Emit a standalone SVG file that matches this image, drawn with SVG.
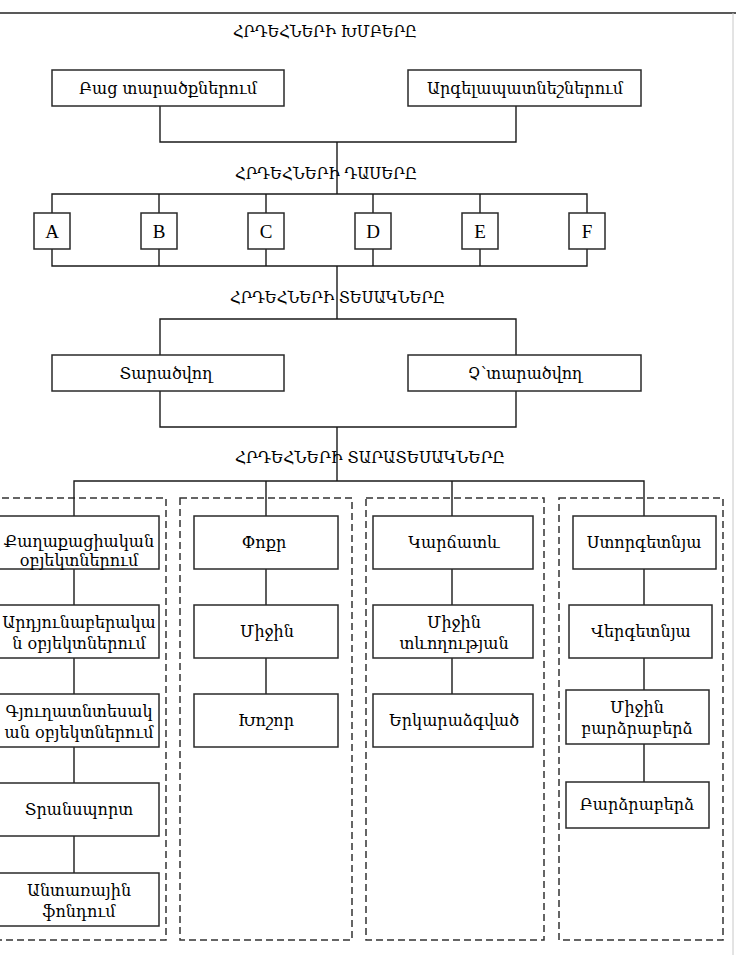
<svg xmlns="http://www.w3.org/2000/svg" width="736" height="955" viewBox="0 0 736 955">
<style>
.bg{fill:#fff}
.box{fill:#fff;stroke:#2a2a2a;stroke-width:1.5}
.dash{fill:none;stroke:#333;stroke-width:1.5;stroke-dasharray:7 4}
.ln{fill:none;stroke:#1a1a1a;stroke-width:1.4}
.t{font-family:"DejaVu Serif","Noto Sans",serif;font-size:16px;fill:#000;text-anchor:middle}
.h{font-family:"DejaVu Serif","Noto Sans",serif;font-size:16.5px;fill:#000}
.l{font-family:"Liberation Serif","DejaVu Serif",serif;font-size:19px;fill:#000;text-anchor:middle}
</style>
<rect class="bg" x="0" y="0" width="736" height="955"/>
<g id="frame">
<line x1="0" y1="13" x2="736" y2="13" stroke="#222" stroke-width="1.5"/>
<line x1="733" y1="13" x2="733" y2="955" stroke="#c8c8c8" stroke-width="1"/>
</g>
<g id="containers">
<rect class="dash" x="-20" y="498" width="186" height="442"/>
<rect class="dash" x="180" y="498" width="172" height="442"/>
<rect class="dash" x="366" y="498" width="178" height="442"/>
<rect class="dash" x="559" y="498" width="164" height="442"/>
</g>
<g id="connectors">
<path class="ln" d="M160 106V142H516V106M337 142V194"/>
<path class="ln" d="M52 213V194H587V213M159 194V213M266 194V213M373 194V213M480 194V213"/>
<path class="ln" d="M52 249V266H587V249M159 249V266M266 249V266M373 249V266M480 249V266"/>
<path class="ln" d="M337 266V319M160 355V319H516V355"/>
<path class="ln" d="M160 391V427H516V391M337 427V481"/>
<path class="ln" d="M74 516V481H644V516M266 481V516M452 481V516"/>
<path class="ln" d="M74 569V605M74 658V694M74 747V783M74 836V873"/>
<path class="ln" d="M266 569V605M266 658V694"/>
<path class="ln" d="M452 569V605M452 658V694"/>
<path class="ln" d="M644 569V605M644 658V690M644 744V782"/>
</g>
<g id="titles">
<text id="title1" class="h" x="233" y="37" textLength="184" lengthAdjust="spacingAndGlyphs">ՀՐԴԵՀՆԵՐԻ ԽՄԲԵՐԸ</text>
<text id="title2" class="h" x="235" y="179" textLength="182" lengthAdjust="spacingAndGlyphs">ՀՐԴԵՀՆԵՐԻ ԴԱՍԵՐԸ</text>
<text id="title3" class="h" x="230" y="303" textLength="215" lengthAdjust="spacingAndGlyphs">ՀՐԴԵՀՆԵՐԻ ՏԵՍԱԿՆԵՐԸ</text>
<text id="title4" class="h" x="235" y="463" textLength="270" lengthAdjust="spacingAndGlyphs">ՀՐԴԵՀՆԵՐԻ ՏԱՐԱՏԵՍԱԿՆԵՐԸ</text>
</g>
<g id="n-open"><rect class="box" x="52" y="70" width="232" height="36"/><text class="t" x="168" y="94">Բաց տարածքներում</text></g>
<g id="n-barrier"><rect class="box" x="408" y="70" width="233" height="36"/><text class="t" x="525" y="94">Արգելապատնեշներում</text></g>
<g id="n-A"><rect class="box" x="34" y="213" width="36" height="36"/><text class="l" x="52" y="238">A</text></g>
<g id="n-B"><rect class="box" x="141" y="213" width="36" height="36"/><text class="l" x="159" y="238">B</text></g>
<g id="n-C"><rect class="box" x="248" y="213" width="36" height="36"/><text class="l" x="266" y="238">C</text></g>
<g id="n-D"><rect class="box" x="355" y="213" width="36" height="36"/><text class="l" x="373" y="238">D</text></g>
<g id="n-E"><rect class="box" x="462" y="213" width="36" height="36"/><text class="l" x="480" y="238">E</text></g>
<g id="n-F"><rect class="box" x="569" y="213" width="36" height="36"/><text class="l" x="587" y="238">F</text></g>
<g id="n-spread"><rect class="box" x="52" y="355" width="232" height="36"/><text class="t" x="166" y="379">Տարածվող</text></g>
<g id="n-nonspread"><rect class="box" x="408" y="355" width="233" height="36"/><text class="t" x="525" y="379">Չ՝տարածվող</text></g>
<g id="n-civil"><rect class="box" x="-4" y="516" width="163" height="53"/><text class="t" x="79" y="547">Քաղաքացիական</text><text class="t" x="79" y="566">օբյեկտներում</text></g>
<g id="n-industrial"><rect class="box" x="-4" y="605" width="163" height="53"/><text class="t" x="79" y="628">Արդյունաբերակա</text><text class="t" x="79" y="649">ն օբյեկտներում</text></g>
<g id="n-agri"><rect class="box" x="-4" y="694" width="163" height="53"/><text class="t" x="79" y="717">Գյուղատնտեսակ</text><text class="t" x="79" y="738">ան օբյեկտներում</text></g>
<g id="n-transport"><rect class="box" x="-4" y="783" width="163" height="53"/><text class="t" x="79" y="815">Տրանսպորտ</text></g>
<g id="n-forest"><rect class="box" x="-4" y="873" width="163" height="53"/><text class="t" x="79" y="896">Անտառային</text><text class="t" x="79" y="917">ֆոնդում</text></g>
<g id="n-small"><rect class="box" x="194" y="516" width="144" height="53"/><text class="t" x="264" y="548">Փոքր</text></g>
<g id="n-medium"><rect class="box" x="194" y="605" width="144" height="53"/><text class="t" x="267" y="637">Միջին</text></g>
<g id="n-large"><rect class="box" x="194" y="694" width="144" height="53"/><text class="t" x="266" y="726">Խոշոր</text></g>
<g id="n-short"><rect class="box" x="373" y="516" width="160" height="53"/><text class="t" x="454" y="548">Կարճատև</text></g>
<g id="n-mid-dur"><rect class="box" x="373" y="605" width="160" height="53"/><text class="t" x="454" y="628">Միջին</text><text class="t" x="454" y="649">տևողության</text></g>
<g id="n-prolonged"><rect class="box" x="373" y="694" width="160" height="53"/><text class="t" x="454" y="726">Երկարաձգված</text></g>
<g id="n-underground"><rect class="box" x="573" y="516" width="143" height="53"/><text class="t" x="644" y="548">Ստորգետնյա</text></g>
<g id="n-aboveground"><rect class="box" x="569" y="605" width="143" height="53"/><text class="t" x="641" y="637">Վերգետնյա</text></g>
<g id="n-mid-high"><rect class="box" x="566" y="690" width="143" height="54"/><text class="t" x="637" y="713">Միջին</text><text class="t" x="637" y="734">բարձրաբերձ</text></g>
<g id="n-high"><rect class="box" x="566" y="782" width="143" height="46"/><text class="t" x="637" y="810">Բարձրաբերձ</text></g>
</svg>
